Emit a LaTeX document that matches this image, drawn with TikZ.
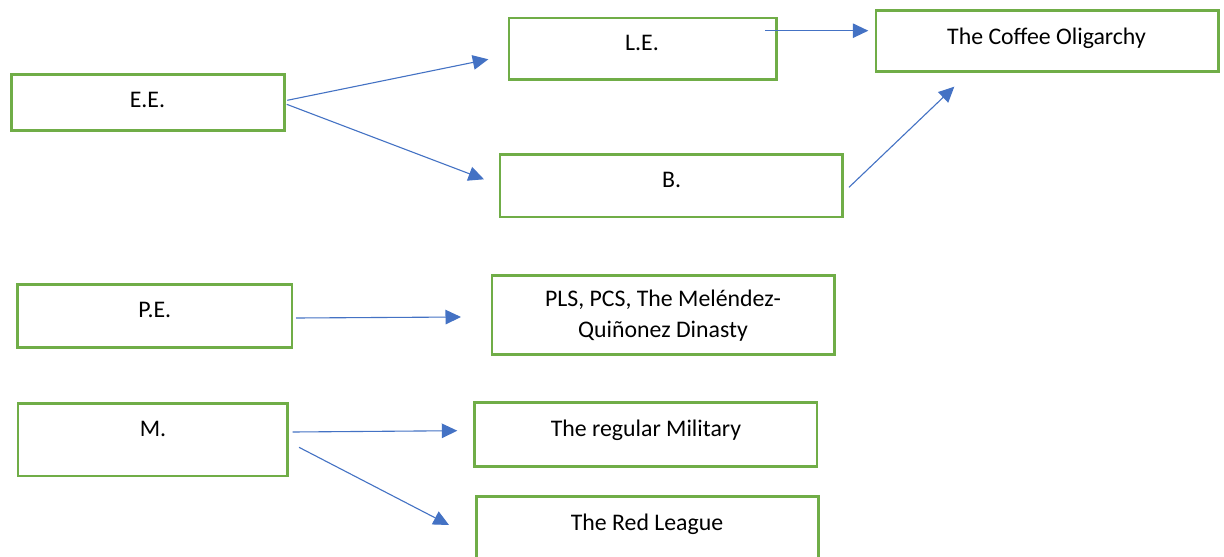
\documentclass[tikz,border=0pt]{standalone}
\usepackage{fontspec}
\setmainfont{Carlito}
\usetikzlibrary{arrows.meta}
\definecolor{boxgreen}{HTML}{70AD47}
\definecolor{arrowblue}{HTML}{4472C4}
\begin{document}
\begin{tikzpicture}[x=1pt,y=-1pt,
  box/.style={draw=boxgreen, line width=2.6pt, fill=white, rectangle, inner sep=0pt},
  lbl/.style={font=\fontsize{23.8}{31}\selectfont, text=black, inner sep=0pt, anchor=base, align=center},
  link/.style={draw=arrowblue, line width=1.1pt, -{Triangle[length=15.5pt,width=14.5pt]}}]
\clip (0,0) rectangle (1224,557);
\fill[white] (0,0) rectangle (1224,557);

% boxes
\node[box, minimum width=273.1pt, minimum height=55.8pt] (ee)  at (147.85,102.5) {};
\node[box, minimum width=267.6pt, minimum height=61.2pt] (le)  at (642.6,48.6) {};
\node[box, minimum width=342.7pt, minimum height=61.1pt] (co)  at (1047.35,40.85) {};
\node[box, minimum width=342.9pt, minimum height=62.7pt] (b)   at (671.25,185.65) {};
\node[box, minimum width=274.7pt, minimum height=62.8pt] (pe)  at (154.65,316) {};
\node[box, minimum width=342.7pt, minimum height=78.8pt] (pls) at (663.35,315) {};
\node[box, minimum width=269.4pt, minimum height=72.4pt] (m)   at (152.7,439.8) {};
\node[box, minimum width=342.4pt, minimum height=64.1pt] (rm)  at (645.8,434.35) {};
\node[box, minimum width=341.9pt, minimum height=70pt]   (rl)  at (647.25,531.3) {};

% labels (a two-line label is placed by the baseline of its last line)
\node[lbl] (ee-t)  at (147.5,107.1) {E.E.};
\node[lbl] (le-t)  at (642,50.9) {L.E.};
\node[lbl] (co-t)  at (1046.5,44.3) {The Coffee Oligarchy};
\node[lbl] (b-t)   at (671.7,187.3) {B.};
\node[lbl] (pe-t)  at (154.7,317.1) {P.E.};
\node[lbl] (pls-t) at (663,337.6) {PLS, PCS, The Meléndez-\\Quiñonez Dinasty};
\node[lbl] (m-t)   at (153,436.6) {M.};
\node[lbl] (rm-t)  at (646,436.6) {The regular Military};
\node[lbl] (rl-t)  at (647,530.1) {The Red League};

% connector ends
\coordinate (ee-a)  at (287.3,100.3);
\coordinate (le-in) at (488.3,59.3);
\coordinate (ee-b)  at (286.7,104.3);
\coordinate (b-in)  at (484,179.3);
\coordinate (le-out) at (765,30.7);
\coordinate (co-in)  at (868.3,30.7);
\coordinate (b-out)  at (849,187.3);
\coordinate (co-in2) at (954.3,86.7);
\coordinate (pe-out) at (296,318);
\coordinate (pls-in) at (461,317);
\coordinate (m-a)    at (292.7,432);
\coordinate (rm-in)  at (457.3,430.7);
\coordinate (m-b)    at (299,447.3);
\coordinate (rl-in)  at (449,525);

% connectors
\draw[link] (ee-a) -- (le-in);
\draw[link] (ee-b) -- (b-in);
\draw[link] (le-out) -- (co-in);
\draw[link] (b-out) -- (co-in2);
\draw[link] (pe-out) -- (pls-in);
\draw[link] (m-a) -- (rm-in);
\draw[link] (m-b) -- (rl-in);
\end{tikzpicture}
\end{document}
